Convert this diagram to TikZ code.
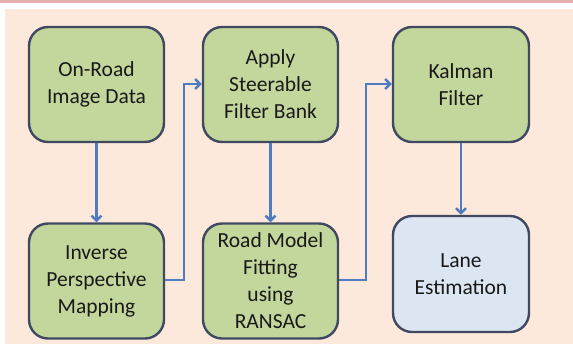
\documentclass[tikz,border=0pt]{standalone}
\usepackage{fontspec}
\setmainfont{Carlito}
\usetikzlibrary{arrows.meta}
\definecolor{bgpeach}{HTML}{FDE9DB}
\definecolor{topline}{HTML}{E4AFAE}
\definecolor{boxgreen}{HTML}{C3D69B}
\definecolor{boxblue}{HTML}{DCE6F2}
\definecolor{boxedge}{HTML}{3F4A62}
\definecolor{flow}{HTML}{4F7CC0}
\tikzset{
  x=1pt, y=-1pt,
  stage/.style={draw=boxedge, line width=2.4pt, rounded corners=19pt,
    fill=boxgreen, align=center, font=\fontsize{21.5}{27}\selectfont,
    text=black!90, inner sep=0pt, minimum width=135pt, minimum height=115pt},
  result/.style={stage, fill=boxblue, minimum height=116pt},
  flowline/.style={draw=flow, line width=2.6pt,
    -{Straight Barb[length=5pt,width=10pt,line width=2.4pt]}},
}
\begin{document}
\begin{tikzpicture}
  \useasboundingbox (0,0) rectangle (573,349);
  \fill[white] (0,0) rectangle (573,349);
  % page strip and backdrop
  \fill[topline] (0,0) rectangle (573,3);
  \fill[bgpeach] (5,9) rectangle (573,344);
  % processing stages
  \node[stage] (img) at (96.5,84.5) {On-Road\\Image Data};
  \node[stage] (ipm) at (96.5,281) {Inverse\\Perspective\\Mapping};
  \node[stage] (sfb) at (270.5,84.5) {Apply\\Steerable\\Filter Bank};
  \node[stage] (fit) at (270.5,281) {Road Model\\Fitting\\using\\RANSAC};
  \node[stage, minimum width=136pt] (kal) at (461,84.5) {Kalman\\Filter};
  \node[result, minimum width=136pt] (lane) at (461,274) {Lane\\Estimation};
  % connectors
  \coordinate (j1) at (184,280);
  \coordinate (j2) at (366,280);
  \draw[flowline] (img.south) -- (ipm.north);
  \draw[flowline] (ipm.east |- j1) -- (j1) |- (sfb.west |- 0,84);
  \draw[flowline] (sfb.south) -- (fit.north);
  \draw[flowline] (fit.east |- j2) -- (j2) |- (kal.west |- 0,84);
  \draw[flowline] (kal.south) -- (lane.north);
\end{tikzpicture}
\end{document}
